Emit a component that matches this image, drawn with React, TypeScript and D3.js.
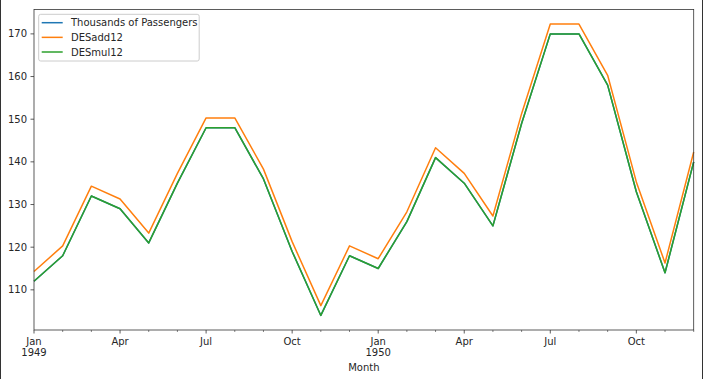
import React from "react";
import * as d3 from "d3";

const months = [
  "1949-01","1949-02","1949-03","1949-04","1949-05","1949-06","1949-07","1949-08","1949-09","1949-10","1949-11","1949-12",
  "1950-01","1950-02","1950-03","1950-04","1950-05","1950-06","1950-07","1950-08","1950-09","1950-10","1950-11","1950-12",
];
const passengers = [112,118,132,129,121,135,148,148,136,119,104,118,115,126,141,135,125,149,170,170,158,133,114,140];
const desAdd12 = [114.3,120.3,134.3,131.3,123.3,137.3,150.3,150.3,138.3,121.3,106.3,120.3,117.3,128.3,143.3,137.3,127.3,151.3,172.3,172.3,160.3,135.3,116.3,142.3];
const desMul12 = [112,118,132,129,121,135,148,148,136,119,104,118,115,126,141,135,125,149,170,170,158,133,114,140];
const seriesNames = ["Thousands of Passengers", "DESadd12", "DESmul12"];
const seriesColors = ["#1f77b4", "#ff7f0e", "#2ca02c"];
const yTicks = [110, 120, 130, 140, 150, 160, 170];
const monthAbbr = ["Jan","Feb","Mar","Apr","May","Jun","Jul","Aug","Sep","Oct","Nov","Dec"];

const W = 704, H = 379;
const L = 34, R = 693.7, T = 9.5, B = 330;
const FONT = "'DejaVu Sans', sans-serif";
const TXT = "#262626";

export default function App() {
  const all = [...passengers, ...desAdd12, ...desMul12];
  const lo = d3.min(all)!, hi = d3.max(all)!;
  const pad = (hi - lo) * 0.05;
  const x = d3.scaleLinear().domain([0, months.length - 1]).range([L, R]);
  const y = d3.scaleLinear().domain([lo - pad, hi + pad]).range([B, T]);
  const line = d3.line<number>().x((_, i) => x(i)).y((v) => y(v));
  const data = [passengers, desAdd12, desMul12];

  return (
    <svg width={W} height={H} style={{ position: "fixed", left: 0, top: 0, background: "#fff" }} fontFamily={FONT}>
      <rect x={0} y={0} width={W} height={H} fill="#fff" />
      <g>
        {data.map((d, k) => (
          <path key={k} d={line(d) || ""} fill="none" stroke={seriesColors[k]} strokeWidth={1.5} strokeLinejoin="round" />
        ))}
      </g>
      <rect x={L} y={T} width={R - L} height={B - T} fill="none" stroke="#333" strokeWidth={0.8} />
      {yTicks.map((t) => (
        <g key={t}>
          <line x1={L - 3.5} x2={L} y1={y(t)} y2={y(t)} stroke="#333" strokeWidth={0.8} />
          <text x={L - 7} y={y(t)} dy="0.35em" textAnchor="end" fontSize={10} fill={TXT}>{t}</text>
        </g>
      ))}
      {months.map((m, i) => {
        const [yr, mo] = m.split("-").map(Number);
        const major = (mo - 1) % 3 === 0;
        return (
          <g key={m}>
            <line x1={x(i)} x2={x(i)} y1={B} y2={B + (major ? 3.5 : 2)} stroke="#333" strokeWidth={major ? 0.8 : 0.6} />
            {major && (
              <text x={x(i)} y={B + 15} textAnchor="middle" fontSize={10} fill={TXT}>{monthAbbr[mo - 1]}</text>
            )}
            {mo === 1 && (
              <text x={x(i)} y={B + 26} textAnchor="middle" fontSize={10} fill={TXT}>{yr}</text>
            )}
          </g>
        );
      })}
      <text x={(L + R) / 2} y={B + 41} textAnchor="middle" fontSize={10} fill={TXT}>Month</text>
      <rect x={38.7} y={14.3} width={160.5} height={46.7} rx={2} fill="#fff" fillOpacity={0.8} stroke="#ccc" strokeWidth={1} />
      {seriesNames.map((n, k) => (
        <g key={n}>
          <line x1={41.7} x2={62.7} y1={22.7 + k * 14.65} y2={22.7 + k * 14.65} stroke={seriesColors[k]} strokeWidth={1.5} />
          <text x={71} y={22.7 + k * 14.65} dy="0.35em" fontSize={10} fill={TXT}>{n}</text>
        </g>
      ))}
      <line x1={0.5} x2={0.5} y1={0} y2={H} stroke="#333" strokeWidth={1} />
      <line x1={702.5} x2={702.5} y1={0} y2={H} stroke="#333" strokeWidth={1} />
    </svg>
  );
}
